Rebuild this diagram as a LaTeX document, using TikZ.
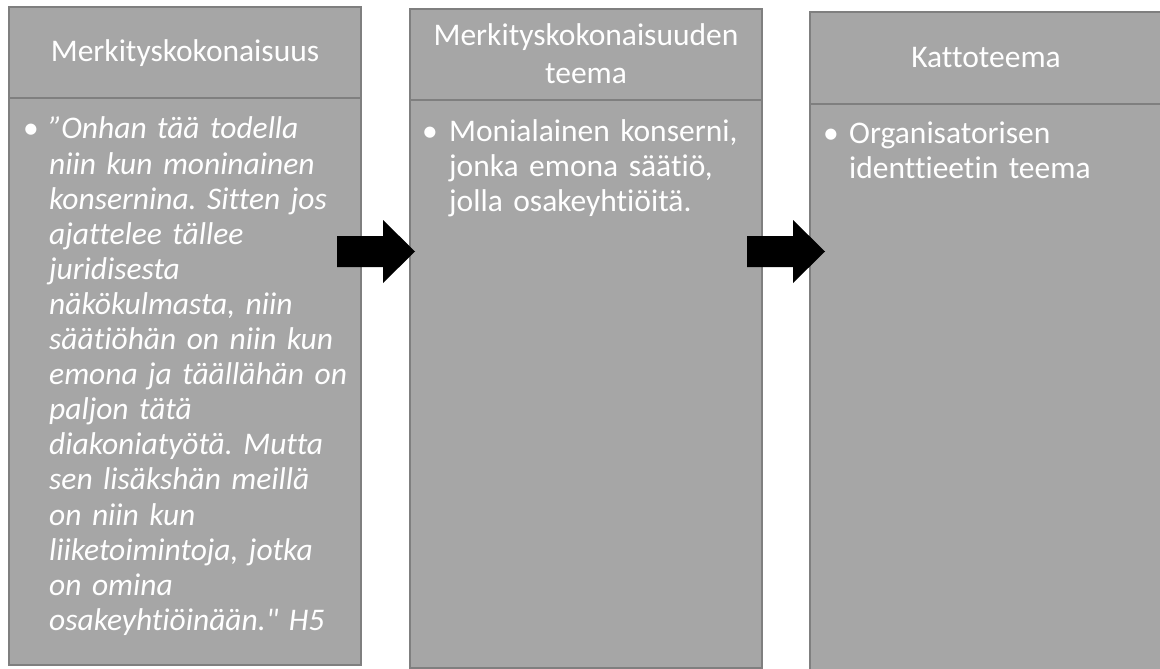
\documentclass[tikz,border=0pt]{standalone}
\usepackage{fontspec}
\setmainfont{Carlito}[Ligatures=NoCommon]
\newfontfamily\carl{Carlito}[Ligatures=NoCommon]
\definecolor{boxfill}{HTML}{A6A6A6}
\definecolor{boxline}{HTML}{7F7F7F}
\newcommand\headsize{\carl\fontsize{31.5}{37.5}\selectfont}
\newcommand\bodysize{\carl\frenchspacing\fontsize{31.5}{35.1}\selectfont}
\begin{document}
\begin{tikzpicture}[x=1pt,y=-1pt,
  panel/.style={draw=boxline, fill=boxfill, line width=2pt, inner sep=0pt},
  headtext/.style={text=white, font=\headsize, align=center, text width=345pt, inner sep=0pt, anchor=base},
  bodytext/.style={text=white, font=\bodysize, align=left, text width=330pt, inner sep=0pt, anchor=base west},
  bulletmark/.style={text=white, font=\bodysize, inner sep=0pt, anchor=base},
  blockarrow/.style={fill=black}]
\useasboundingbox (0,0) rectangle (1160,669);
\clip (0,0) rectangle (1160,669);

% column 1
\node[panel, minimum width=352pt, minimum height=91pt] (h1) at (185,52.5) {};
\node[panel, minimum width=352pt, minimum height=567pt] (p1) at (185,381.5) {};
% column 2
\node[panel, minimum width=352pt, minimum height=91pt] (h2) at (586,54.5) {};
\node[panel, minimum width=352pt, minimum height=568pt] (p2) at (586,384) {};
% column 3
\node[panel, minimum width=352pt, minimum height=92pt] (h3) at (986,58) {};
\node[panel, minimum width=352pt, minimum height=568pt] (p3) at (986,388) {};

% header texts
\node[headtext] (h1t) at (185,62) {Merkityskokonaisuus};
\node[headtext] (h2t) at (586,46) {Merkityskokonaisuuden\\teema};
\node[headtext] (h3t) at (986,67) {Kattoteema};

% body texts
\node[bulletmark] (b1) at (31,139) {•};
\node[bodytext, font=\bodysize\itshape] (t1) at (49,139) {”Onhan tää todella\\niin kun moninainen\\konsernina. Sitten jos\\ajattelee tällee\\juridisesta\\näkökulmasta, niin\\säätiöhän on niin kun\\emona ja täällähän on\\paljon tätä\\diakoniatyötä. Mutta\\sen lisäkshän meillä\\on niin kun\\liiketoimintoja, jotka\\on omina\\osakeyhtiöinään." H5};

\node[bulletmark] (b2) at (430,141) {•};
\node[bodytext] (t2) at (449,141) {Monialainen konserni,\\jonka emona säätiö,\\jolla osakeyhtiöitä.};

\node[bulletmark] (b3) at (831,143) {•};
\node[bodytext] (t3) at (849,143) {Organisatorisen\\identtieetin teema};

% block arrows
\coordinate (a1s) at (337,251.5);
\coordinate (a1t) at (415,251.5);
\fill[blockarrow] (a1s) ++(0,-15.5) -- ++(46,0) -- ++(0,-16) -- (a1t) -- ++(-32,31.5) -- ++(0,-16) -- ++(-46,0) -- cycle;
\coordinate (a2s) at (747,251.5);
\coordinate (a2t) at (825,251.5);
\fill[blockarrow] (a2s) ++(0,-15.5) -- ++(46,0) -- ++(0,-16) -- (a2t) -- ++(-32,31.5) -- ++(0,-16) -- ++(-46,0) -- cycle;
\end{tikzpicture}
\end{document}
